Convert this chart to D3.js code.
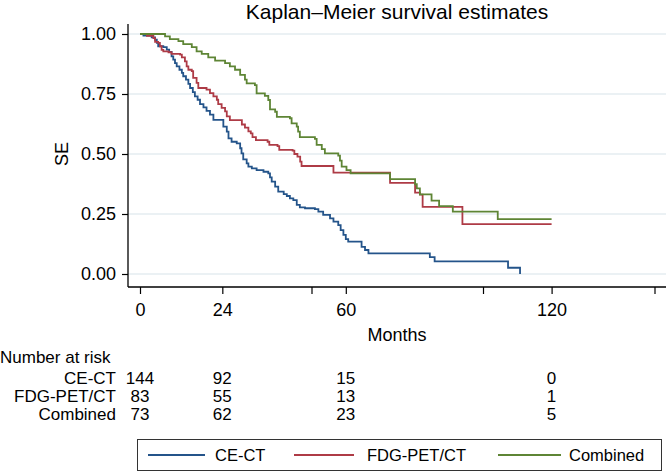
<!DOCTYPE html>
<html>
<head>
<meta charset="utf-8">
<script src="https://cdn.jsdelivr.net/npm/d3@7"></script>
<style>
  html, body { margin: 0; padding: 0; background: #fff; }
  svg { display: block; }
  text { font-family: "Liberation Sans", Arial, Helvetica, sans-serif; fill: #000; }
</style>
</head>
<body>
<svg id="chart" width="666" height="472"></svg>
<script>
// ---------- data ----------
const seriesNames = ["CE-CT", "FDG-PET/CT", "Combined"];

const ceTimes = [1.0, 3.4, 4.4, 4.9, 5.3, 6.8, 7.8, 8.5, 9.2, 9.7, 10.2, 10.7, 11.5, 12.2, 12.6, 13.4, 14.1, 14.6, 15.4, 16.0, 16.8, 17.5, 18.5, 19.4, 20.4, 21.4, 24.3, 25.3, 25.8, 26.7, 28.2, 29.2, 29.6, 30.1, 31.1, 31.6, 32.6, 34.0, 36.0, 37.4, 37.9, 38.4, 39.4, 40.3, 41.9, 42.8, 43.7, 44.7, 45.7, 46.6, 48.1, 51.0, 52.0, 53.4, 55.4, 56.4, 57.8, 58.5, 59.3, 60.0, 60.7, 64.6, 65.6, 66.6, 84.5, 85.9, 107.3, 110.8];
const ceSurv  = [0.993, 0.986, 0.976, 0.963, 0.949, 0.945, 0.935, 0.925, 0.907, 0.893, 0.879, 0.865, 0.851, 0.838, 0.824, 0.810, 0.792, 0.775, 0.758, 0.740, 0.726, 0.708, 0.694, 0.680, 0.664, 0.642, 0.614, 0.593, 0.565, 0.551, 0.544, 0.524, 0.503, 0.478, 0.461, 0.447, 0.440, 0.433, 0.426, 0.419, 0.403, 0.385, 0.364, 0.343, 0.333, 0.325, 0.315, 0.308, 0.288, 0.278, 0.274, 0.270, 0.260, 0.246, 0.232, 0.218, 0.204, 0.183, 0.163, 0.145, 0.135, 0.113, 0.100, 0.086, 0.070, 0.053, 0.026, 0.0];
const ceEnd = 110.8;

const petTimes = [2.0, 3.9, 4.4, 5.3, 5.8, 6.3, 6.8, 8.3, 9.2, 11.7, 12.2, 13.1, 13.6, 14.1, 15.1, 15.5, 16.5, 17.0, 19.4, 20.4, 21.4, 22.4, 22.8, 23.8, 24.8, 25.3, 26.2, 29.7, 30.6, 31.6, 32.3, 32.8, 33.8, 37.2, 37.7, 40.1, 40.6, 44.5, 45.0, 45.9, 46.7, 47.1, 56.4, 72.9, 80.2, 81.6, 82.4, 94.0];
const petSurv  = [0.992, 0.983, 0.967, 0.963, 0.949, 0.934, 0.928, 0.924, 0.917, 0.914, 0.903, 0.886, 0.865, 0.851, 0.845, 0.817, 0.796, 0.775, 0.768, 0.754, 0.740, 0.726, 0.708, 0.692, 0.678, 0.657, 0.641, 0.623, 0.610, 0.594, 0.586, 0.570, 0.558, 0.551, 0.538, 0.533, 0.517, 0.514, 0.500, 0.489, 0.468, 0.450, 0.422, 0.380, 0.339, 0.331, 0.280, 0.208];
const petEnd = 120;

const comTimes = [7.3, 8.7, 11.2, 12.6, 15.1, 16.5, 18.0, 19.9, 21.9, 24.8, 26.2, 27.7, 29.2, 30.6, 31.1, 33.5, 34.0, 36.4, 37.4, 37.9, 39.4, 39.9, 43.7, 44.2, 45.7, 46.1, 46.6, 51.0, 51.5, 53.0, 53.9, 57.8, 58.3, 58.8, 60.2, 61.4, 72.9, 80.2, 80.7, 81.6, 85.0, 87.2, 91.2, 104.3];
const comSurv  = [0.990, 0.979, 0.970, 0.958, 0.945, 0.928, 0.917, 0.903, 0.889, 0.879, 0.865, 0.851, 0.830, 0.810, 0.794, 0.787, 0.753, 0.742, 0.725, 0.686, 0.676, 0.655, 0.649, 0.628, 0.614, 0.593, 0.570, 0.563, 0.538, 0.520, 0.503, 0.493, 0.472, 0.447, 0.433, 0.419, 0.395, 0.374, 0.357, 0.332, 0.306, 0.283, 0.260, 0.229];
const comEnd = 120;

const yTicks = [0, 0.25, 0.5, 0.75, 1];
const yTickLabels = ["0.00", "0.25", "0.50", "0.75", "1.00"];
const xMajorTicks = [0, 50, 100, 150];
const xLabelTicks = [0, 24, 60, 120];

const riskTimes = [0, 24, 60, 120];
const riskCE  = [144, 92, 15, 0];
const riskPET = [83, 55, 13, 1];
const riskCom = [73, 62, 23, 5];

// ---------- layout ----------
const colors = ["#24548a", "#ae3b46", "#5e8535"];
const svg = d3.select("#chart");
svg.append("rect").attr("width", 666).attr("height", 472).attr("fill", "#fff");

const x = d3.scaleLinear().domain([0, 150]).range([140, 654.5]);
const y = d3.scaleLinear().domain([0, 1]).range([274, 34]);
const plotLeft = 128, plotRight = 666, plotTop = 24, plotBottom = 287;

// gridlines
svg.append("g").selectAll("line").data(yTicks).join("line")
  .attr("x1", plotLeft).attr("x2", plotRight)
  .attr("y1", d => y(d)).attr("y2", d => y(d))
  .attr("stroke", "#e4edf0").attr("stroke-width", 1.3);

// title
svg.append("text").attr("x", 397).attr("y", 19).attr("text-anchor", "middle")
  .attr("font-size", 21).text("Kaplan\u2013Meier survival estimates");

// y axis
const yAxis = d3.axisLeft(y).tickValues(yTicks).tickSize(6).tickPadding(6)
  .tickFormat((d, i) => yTickLabels[i]);
const gy = svg.append("g").attr("transform", `translate(${plotLeft},0)`).call(yAxis);
gy.select(".domain").remove();
gy.selectAll("line").attr("stroke", "#000").attr("stroke-width", 1.2);
gy.selectAll("text").attr("font-size", 18).attr("font-family", "Liberation Sans, Arial, sans-serif");
svg.append("line").attr("x1", plotLeft).attr("x2", plotLeft)
  .attr("y1", plotTop).attr("y2", plotBottom).attr("stroke", "#000").attr("stroke-width", 1.3);

svg.append("text").attr("transform", "translate(68,154) rotate(-90)")
  .attr("text-anchor", "middle").attr("font-size", 18).text("SE");

// x axis
const allXTicks = Array.from(new Set(xLabelTicks.concat(xMajorTicks))).sort((a, b) => a - b);
const xAxis = d3.axisBottom(x).tickValues(allXTicks).tickSize(7).tickPadding(9)
  .tickFormat(d => xLabelTicks.includes(d) ? String(d) : "");
const gx = svg.append("g").attr("transform", `translate(0,${plotBottom})`).call(xAxis);
gx.select(".domain").remove();
gx.selectAll("line").attr("stroke", "#000").attr("stroke-width", 1.2);
gx.selectAll("text").attr("font-size", 18).attr("font-family", "Liberation Sans, Arial, sans-serif");
svg.append("line").attr("x1", plotLeft).attr("x2", plotRight)
  .attr("y1", plotBottom).attr("y2", plotBottom).attr("stroke", "#000").attr("stroke-width", 1.3);

svg.append("text").attr("x", 397).attr("y", 341).attr("text-anchor", "middle")
  .attr("font-size", 18).text("Months");

// curves
function buildPts(times, surv, end) {
  const pts = [[0, 1]];
  times.forEach((t, i) => pts.push([t, surv[i]]));
  const last = pts[pts.length - 1];
  if (end > last[0]) pts.push([end, last[1]]);
  return pts;
}
const curves = [
  buildPts(ceTimes, ceSurv, ceEnd),
  buildPts(petTimes, petSurv, petEnd),
  buildPts(comTimes, comSurv, comEnd)
];
const line = d3.line().x(d => x(d[0])).y(d => y(d[1])).curve(d3.curveStepAfter);
svg.append("g").selectAll("path").data(curves).join("path")
  .attr("d", line).attr("fill", "none")
  .attr("stroke", (d, i) => colors[i]).attr("stroke-width", 1.8)
  .attr("stroke-linejoin", "miter");

// risk table
svg.append("text").attr("x", 0).attr("y", 363).attr("font-size", 17).text("Number at risk");
const riskRows = [riskCE, riskPET, riskCom];
const rowY = [384, 402, 420];
riskRows.forEach((row, r) => {
  svg.append("text").attr("x", 116).attr("y", rowY[r]).attr("text-anchor", "end")
    .attr("font-size", 17).text(seriesNames[r]);
  row.forEach((v, i) => {
    svg.append("text").attr("x", x(riskTimes[i])).attr("y", rowY[r])
      .attr("text-anchor", "middle").attr("font-size", 17).text(v);
  });
});

// legend
svg.append("rect").attr("x", 137.5).attr("y", 439.5).attr("width", 524).attr("height", 31)
  .attr("fill", "#fff").attr("stroke", "#333").attr("stroke-width", 1);
const legItems = [
  { x1: 148, x2: 205, tx: 215 },
  { x1: 294, x2: 354, tx: 367 },
  { x1: 498, x2: 561, tx: 569 }
];
legItems.forEach((it, i) => {
  svg.append("line").attr("x1", it.x1).attr("x2", it.x2).attr("y1", 455).attr("y2", 455)
    .attr("stroke", colors[i]).attr("stroke-width", 1.8);
  svg.append("text").attr("x", it.tx).attr("y", 461).attr("font-size", 16.5).text(seriesNames[i]);
});
</script>
</body>
</html>
